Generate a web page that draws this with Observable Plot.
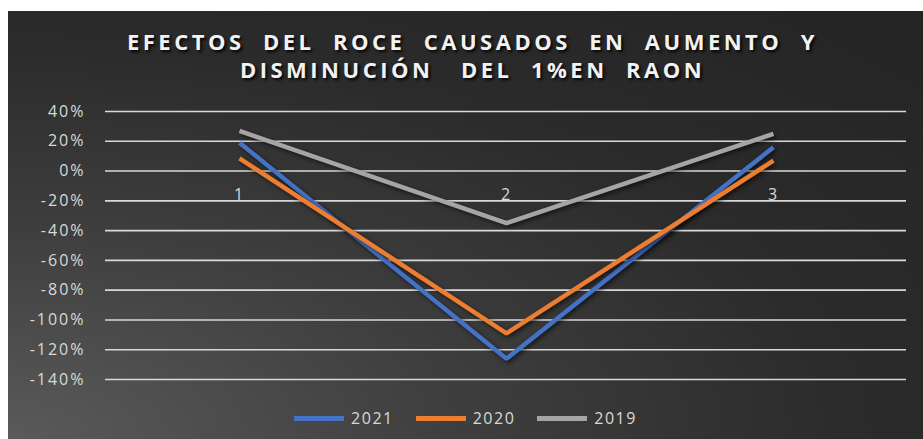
<!DOCTYPE html>
<html>
<head>
<meta charset="utf-8">
<script src="https://cdn.jsdelivr.net/npm/d3@7"></script>
<script src="https://cdn.jsdelivr.net/npm/@observablehq/plot@0.6"></script>
<style>
  html, body { margin: 0; padding: 0; background: #fff; }
  #chart {
    position: absolute; left: 8px; top: 11px; width: 915px; height: 428px;
    background: radial-gradient(ellipse at 0% 100%, #5a5a5a 0%, #3e3e3e 35%, #2b2b2b 65%, #242424 100%);
    overflow: hidden;
    font-family: "Open Sans", "Noto Sans", sans-serif;
  }
  #title {
    position: absolute; left: 2px; top: 16px; width: 925px; text-align: center;
    color: #f2f2f2; font-weight: bold; font-size: 22px; line-height: 28px;
    letter-spacing: 3.5px; white-space: pre;
    text-shadow: 2px 2px 3px rgba(0,0,0,0.9);
    font-family: "Open Sans", sans-serif;
  }
  #plot { position: absolute; left: 0; top: 89px; }
  #plot svg path { filter: drop-shadow(2px 2px 2px rgba(0,0,0,0.6)); }
  #legend {
    position: absolute; left: 0; top: 396px; width: 915px; display: flex; justify-content: center;
    color: #d9d9d9; font-size: 16px; letter-spacing: 1.5px; font-family: "Open Sans", sans-serif;
  }
  .item { display: flex; align-items: center; margin: 0 11px; }
  .sw { width: 50px; height: 5px; margin-right: 7px; }
</style>
</head>
<body>
<div id="chart">
  <div id="title">EFECTOS  DEL  ROCE  CAUSADOS  EN  AUMENTO  Y
DISMINUCIÓN   DEL  1%EN  RAON</div>
  <div id="plot"></div>
  <div id="legend"></div>
</div>
<script>
const categories = [1, 2, 3];
const series = ["2021", "2020", "2019"];
const values2021 = [19, -126, 16];
const values2020 = [8.5, -109, 7];
const values2019 = [27, -35, 25];
const colors = ["#4472C4", "#ED7D31", "#A5A5A5"];
const yTicks = [40, 20, 0, -20, -40, -60, -80, -100, -120, -140];

const valueSets = [values2021, values2020, values2019];
const data = [];
series.forEach((s, i) => categories.forEach((c, j) => data.push({series: s, cat: c, value: valueSets[i][j]})));

const plot = Plot.plot({
  width: 915,
  height: 300,
  marginLeft: 97,
  marginRight: 17,
  marginTop: 11,
  marginBottom: 21,
  style: {background: "transparent", color: "#d9d9d9", fontFamily: "Open Sans, sans-serif", fontSize: "16px", letterSpacing: "2px", overflow: "visible"},
  x: {type: "point", domain: categories, padding: 0.5, axis: null},
  y: {domain: [-140, 40], ticks: yTicks, tickFormat: d => d + "%", label: null, tickSize: 0, tickPadding: 20},
  color: {domain: series, range: colors},
  marks: [
    Plot.ruleY(yTicks, {stroke: "#d9d9d9", strokeWidth: 1.6, strokeOpacity: 1}),
    Plot.axisY({ticks: yTicks, tickFormat: d => d + "%", tickSize: 0, tickPadding: 20, label: null, fontSize: 16, fill: "#d9d9d9"}),
    Plot.text(categories, {x: d => d, y: () => 0, dy: 24, text: d => String(d), fill: "#d9d9d9", fontSize: 16}),
    Plot.line(data, {x: "cat", y: "value", z: "series", stroke: "series", strokeWidth: 4.5, strokeLinecap: "butt", strokeLinejoin: "miter"})
  ]
});
document.getElementById("plot").appendChild(plot);

const legend = document.getElementById("legend");
series.forEach((s, i) => {
  const it = document.createElement("div");
  it.className = "item";
  it.innerHTML = `<span class="sw" style="background:${colors[i]}"></span><span>${s}</span>`;
  legend.appendChild(it);
});
</script>
</body>
</html>
